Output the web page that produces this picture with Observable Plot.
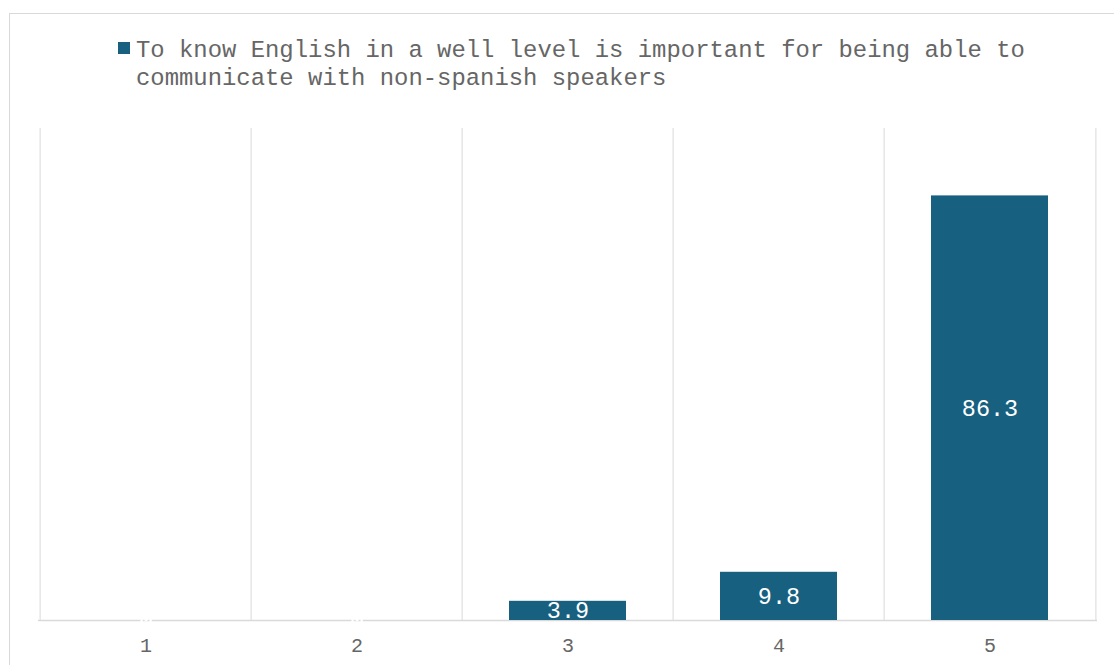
<!DOCTYPE html>
<html>
<head>
<meta charset="utf-8">
<script src="https://cdn.jsdelivr.net/npm/d3@7"></script>
<script src="https://cdn.jsdelivr.net/npm/@observablehq/plot@0.6"></script>
<style>
  body { margin: 0; background: #fff; width: 1114px; height: 665px; overflow: hidden; position: relative; }
  #frame { position: absolute; left: 9px; top: 13px; width: 1200px; height: 800px; border: 1px solid #d9d9d9; box-sizing: border-box; }
  #legend { position: absolute; left: 118px; top: 37px; display: flex; align-items: flex-start; }
  #legend .swatch { width: 12px; height: 12px; margin-top: 5px; margin-right: 6px; flex: none; }
  #legend .text { width: 930px; font-family: 'Liberation Mono', 'Courier New', monospace; font-size: 23.9px; line-height: 28px; color: #666666; }
  #chart { position: absolute; left: 0; top: 100px; }
</style>
</head>
<body>
<div id="frame"></div>
<div id="legend"></div>
<div id="chart"></div>
<script>
const seriesName = "To know English in a well level is important for being able to communicate with non-spanish speakers";
const categories = ["1", "2", "3", "4", "5"];
const values = [0, 0, 3.9, 9.8, 86.3];
const barColor = "#176080";

const data = categories.map((c, i) => ({cat: c, value: values[i]}));

// legend
const legend = document.getElementById("legend");
const sw = document.createElement("div");
sw.className = "swatch";
sw.style.background = barColor;
const lt = document.createElement("div");
lt.className = "text";
lt.textContent = seriesName;
legend.appendChild(sw);
legend.appendChild(lt);

const W = 1114, H = 565, ML = 38, MR = 17, MT = 28, MB = 45;
const bw = (W - ML - MR) / categories.length;

const chart = Plot.plot({
  width: W,
  height: H,
  marginLeft: ML,
  marginRight: MR,
  marginTop: MT,
  marginBottom: MB,
  style: {fontFamily: "'Liberation Mono', 'Courier New', monospace", fontSize: "20px", color: "#666666", background: "transparent"},
  x: {domain: categories, padding: 0, tickSize: 0, tickPadding: 17, label: null},
  y: {domain: [0, 100], axis: null},
  marks: [
    Plot.ruleX(categories, {x: d => d, dx: -bw / 2, stroke: "#d9d9d9", strokeWidth: 1}),
    Plot.ruleX([categories[categories.length - 1]], {x: d => d, dx: bw / 2, stroke: "#d9d9d9", strokeWidth: 1}),
    Plot.ruleY([0], {stroke: "#d9d9d9", strokeWidth: 1.5}),
    Plot.barY(data, {x: "cat", y: "value", fill: barColor, insetLeft: 47, insetRight: 47}),
    Plot.text(data, {x: "cat", y: d => d.value / 2, text: d => String(d.value), fill: "white", fontSize: 23.5})
  ]
});
document.getElementById("chart").appendChild(chart);
</script>
</body>
</html>
